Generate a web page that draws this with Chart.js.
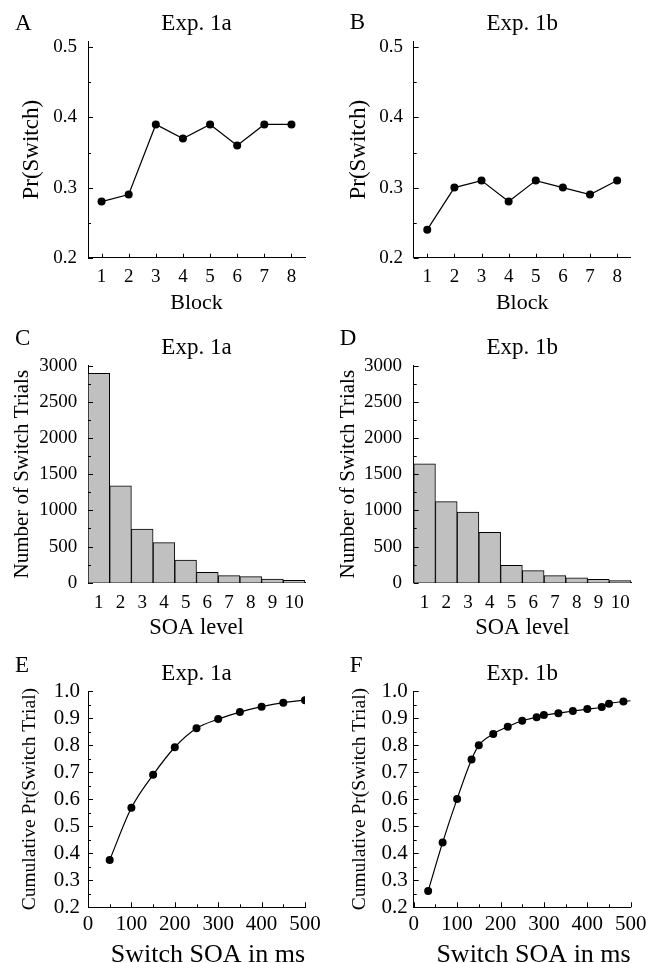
<!DOCTYPE html>
<html>
<head>
<meta charset="utf-8">
<script src="https://cdn.jsdelivr.net/npm/chart.js@4.4.1/dist/chart.umd.min.js"></script>
<style>
  html, body { margin: 0; padding: 0; background: #fff; overflow: hidden; }
  #fig { position: relative; width: 656px; height: 963px; overflow: hidden; }
  #fig canvas { position: absolute; }
</style>
</head>
<body>
<div id="fig">
  <canvas id="panelA" width="328" height="320" style="left:0px;top:0px"></canvas>
  <canvas id="panelB" width="328" height="320" style="left:328px;top:0px"></canvas>
  <canvas id="panelC" width="328" height="330" style="left:0px;top:320px"></canvas>
  <canvas id="panelD" width="328" height="330" style="left:328px;top:320px"></canvas>
  <canvas id="panelE" width="328" height="335" style="left:0px;top:640px"></canvas>
  <canvas id="panelF" width="328" height="335" style="left:328px;top:640px"></canvas>
</div>
<script>
  // switch rate per block
  const blocks = ["1", "2", "3", "4", "5", "6", "7", "8"];
  const switchRate1a = [0.28, 0.29, 0.39, 0.37, 0.39, 0.36, 0.39, 0.39];
  const switchRate1b = [0.24, 0.30, 0.31, 0.28, 0.31, 0.30, 0.29, 0.31];

  // number of switch trials per SOA level
  const soaLevels = ["1", "2", "3", "4", "5", "6", "7", "8", "9", "10"];
  const switchCount1a = [2895, 1340, 742, 553, 314, 144, 97, 83, 51, 33];
  const switchCount1b = [1645, 1120, 977, 697, 240, 166, 97, 69, 46, 28];

  // cumulative switch probability by SOA (ms)
  const soa1a = [50, 100, 150, 200, 250, 300, 350, 400, 450, 500];
  const cumulative1a = [0.375, 0.568, 0.690, 0.792, 0.862, 0.896, 0.922, 0.942, 0.957, 0.966];
  const soa1b = [33.3, 66.7, 100, 133.3, 150, 183.3, 216.7, 250, 283.3, 300, 333.3, 366.7, 400, 433.3, 450, 483.3, 500];
  const cumulative1b = [0.260, 0.440, 0.601, 0.747, 0.799, 0.841, 0.868, 0.890, 0.903, 0.911, 0.918, 0.926, 0.933, 0.941, 0.953, 0.961, 0.964];

  // tick values
  const rateTicks = [0.2, 0.3, 0.4, 0.5];
  const rateMinor = [0.25, 0.35, 0.45];
  const countTicks = [0, 500, 1000, 1500, 2000, 2500, 3000];
  const countMinor = [250, 750, 1250, 1750, 2250, 2750];
  const cumTicks = [0.2, 0.3, 0.4, 0.5, 0.6, 0.7, 0.8, 0.9, 1.0];
  const cumMinor = [0.25, 0.35, 0.45, 0.55, 0.65, 0.75, 0.85, 0.95];
  const msTicks = [0, 100, 200, 300, 400, 500];
  const msMinor = [50, 150, 250, 350, 450];

  Chart.defaults.font.family = "'Liberation Serif', 'Times New Roman', serif";
  Chart.defaults.color = "#000";

  // tick marks pointing into the plot area
  const insideTicks = {
    id: "insideTicks",
    afterDatasetsDraw(chart, args, opts) {
      const { ctx, chartArea } = chart;
      ctx.save();
      ctx.strokeStyle = "#000";
      ctx.lineWidth = 1;
      (opts.marks || []).forEach((m) => {
        const scale = chart.scales[m.axis];
        m.values.forEach((v) => {
          const p = Math.round(scale.getPixelForValue(v)) + 0.5;
          ctx.beginPath();
          if (m.axis === "x") {
            ctx.moveTo(p, chartArea.bottom);
            ctx.lineTo(p, chartArea.bottom - m.len);
          } else {
            ctx.moveTo(chartArea.left, p);
            ctx.lineTo(chartArea.left + m.len, p);
          }
          ctx.stroke();
        });
      });
      ctx.restore();
    },
  };

  // panel letter in the top-left corner
  const panelLetter = {
    id: "panelLetter",
    afterDraw(chart, args, opts) {
      const ctx = chart.ctx;
      ctx.save();
      ctx.fillStyle = "#000";
      ctx.font = "23px " + Chart.defaults.font.family;
      ctx.textAlign = "left";
      ctx.textBaseline = "alphabetic";
      ctx.fillText(opts.text, opts.x, opts.y);
      ctx.restore();
    },
  };

  function axisStyle(extra) {
    return Object.assign(
      {
        grid: { display: false, drawTicks: false, tickLength: 0 },
        border: { display: true, color: "#000", width: 1 },
      },
      extra
    );
  }

  const TITLE_SIZE = 23;

  function panel(id, p) {
    const el = document.getElementById(id);
    const [left, top, right, bottom] = p.area;
    return new Chart(el, {
      type: p.type,
      data: p.data,
      options: {
        responsive: false,
        animation: false,
        devicePixelRatio: 1,
        layout: { padding: { left: 0, top: 0, right: el.width - right, bottom: 0 } },
        plugins: {
          legend: { display: false },
          tooltip: { enabled: false },
          title: {
            display: true,
            text: p.title,
            fullSize: false,
            color: "#000",
            font: { size: TITLE_SIZE, weight: "normal" },
            padding: { top: p.titleTop, bottom: top - p.titleTop - TITLE_SIZE * 1.2 },
          },
          panelLetter: p.letter,
          insideTicks: { marks: p.marks },
        },
        scales: {
          x: Object.assign(p.x, { afterFit: (s) => { s.height = el.height - bottom; } }),
          y: Object.assign(p.y, { afterFit: (s) => { s.width = left; } }),
        },
      },
      plugins: [insideTicks, panelLetter],
    });
  }

  function blockPanel(id, title, letter, values, area, yPad, yTitlePad) {
    return panel(id, {
      type: "line",
      title: title,
      titleTop: 9.7,
      letter: letter,
      area: area,
      data: {
        labels: blocks,
        datasets: [{
          data: values,
          borderColor: "#000",
          borderWidth: 1.2,
          pointRadius: 4,
          pointBackgroundColor: "#000",
          pointBorderWidth: 0,
          tension: 0,
        }],
      },
      x: axisStyle({
        type: "category",
        offset: true,
        ticks: { font: { size: 19 }, padding: 8.3, autoSkip: false, maxRotation: 0 },
        title: { display: true, text: "Block", font: { size: 22 }, padding: { top: 0, bottom: 3.4 } },
      }),
      y: axisStyle({
        type: "linear",
        min: 0.2,
        max: 0.508,
        afterBuildTicks: (s) => { s.ticks = rateTicks.map((v) => ({ value: v })); },
        ticks: { font: { size: 19 }, padding: yPad, autoSkip: false, callback: (v) => v.toFixed(1) },
        title: { display: true, text: "Pr(Switch)", font: { size: 23 }, padding: { top: yTitlePad, bottom: 0 } },
      }),
      marks: [
        { axis: "x", values: blocks.map((b, i) => i), len: 4 },
        { axis: "y", values: rateTicks, len: 5 },
        { axis: "y", values: rateMinor, len: 3 },
      ],
    });
  }

  function countPanel(id, title, letter, values, area, yPad, yTitlePad) {
    return panel(id, {
      type: "bar",
      title: title,
      titleTop: 14.2,
      letter: letter,
      area: area,
      data: {
        labels: soaLevels,
        datasets: [{
          data: values,
          backgroundColor: "#c0c0c0",
          borderColor: "#000",
          borderWidth: 1,
          barPercentage: 1,
          categoryPercentage: 1,
        }],
      },
      x: axisStyle({
        type: "category",
        offset: true,
        ticks: { font: { size: 19 }, padding: 8.7, autoSkip: false, maxRotation: 0 },
        title: { display: true, text: "SOA level", font: { size: 22.5 }, padding: { top: 0, bottom: 8.5 } },
      }),
      y: axisStyle({
        type: "linear",
        min: 0,
        max: 3000,
        afterBuildTicks: (s) => { s.ticks = countTicks.map((v) => ({ value: v })); },
        ticks: { font: { size: 19 }, padding: yPad, autoSkip: false, callback: (v) => String(v) },
        title: { display: true, text: "Number of Switch Trials", font: { size: 21 }, padding: { top: yTitlePad, bottom: 0 } },
      }),
      marks: [
        { axis: "y", values: countTicks, len: 5 },
        { axis: "y", values: countMinor, len: 3 },
      ],
    });
  }

  function cumulativePanel(id, title, letter, xs, ys, radii, area, yPad, yTitlePad) {
    return panel(id, {
      type: "line",
      title: title,
      titleTop: 20.4,
      letter: letter,
      area: area,
      data: {
        datasets: [{
          data: xs.map((x, i) => ({ x: x, y: ys[i] })),
          borderColor: "#000",
          borderWidth: 1.2,
          pointRadius: radii,
          pointBackgroundColor: "#000",
          pointBorderWidth: 0,
          cubicInterpolationMode: "monotone",
        }],
      },
      x: axisStyle({
        type: "linear",
        min: 0,
        max: 500,
        afterBuildTicks: (s) => { s.ticks = msTicks.map((v) => ({ value: v })); },
        ticks: { font: { size: 21 }, padding: 4.8, autoSkip: false, maxRotation: 0, callback: (v) => String(v) },
        title: { display: true, text: "Switch SOA in ms", align: "end", font: { size: 26 }, padding: { top: 0, bottom: 4.4 } },
      }),
      y: axisStyle({
        type: "linear",
        min: 0.2,
        max: 1.0,
        afterBuildTicks: (s) => { s.ticks = cumTicks.map((v) => ({ value: v })); },
        ticks: { font: { size: 21 }, padding: yPad, autoSkip: false, callback: (v) => v.toFixed(1) },
        title: { display: true, text: "Cumulative Pr(Switch Trial)", font: { size: 19.5 }, padding: { top: yTitlePad, bottom: 0 } },
      }),
      marks: [
        { axis: "x", values: msTicks, len: 5 },
        { axis: "x", values: msMinor, len: 3 },
        { axis: "y", values: cumTicks, len: 5 },
        { axis: "y", values: cumMinor, len: 3 },
      ],
    });
  }

  blockPanel("panelA", "Exp. 1a", { text: "A", x: 15, y: 30 }, switchRate1a, [88, 41.7, 305, 257.7], 11, 17.7);
  blockPanel("panelB", "Exp. 1b", { text: "B", x: 21.7, y: 29.3 }, switchRate1b, [85.7, 41.7, 302.7, 257.7], 10.7, 16.7);

  countPanel("panelC", "Exp. 1a", { text: "C", x: 15, y: 25 }, switchCount1a, [88, 45.7, 305, 262.7], 10.7, 9.5);
  countPanel("panelD", "Exp. 1b", { text: "D", x: 11.7, y: 25 }, switchCount1b, [85.7, 45.7, 303, 262.7], 11.7, 7.4);

  cumulativePanel("panelE", "Exp. 1a", { text: "E", x: 15, y: 31.7 }, soa1a, cumulative1a,
    soa1a.map(() => 4), [88, 51, 305, 267.3], 8, 18);
  cumulativePanel("panelF", "Exp. 1b", { text: "F", x: 21.7, y: 31.7 }, soa1b, cumulative1b,
    soa1b.map((x, i) => (i === soa1b.length - 1 ? 0 : 4)), [85.7, 51, 302.7, 267.3], 6, 20.5);
</script>
</body>
</html>
